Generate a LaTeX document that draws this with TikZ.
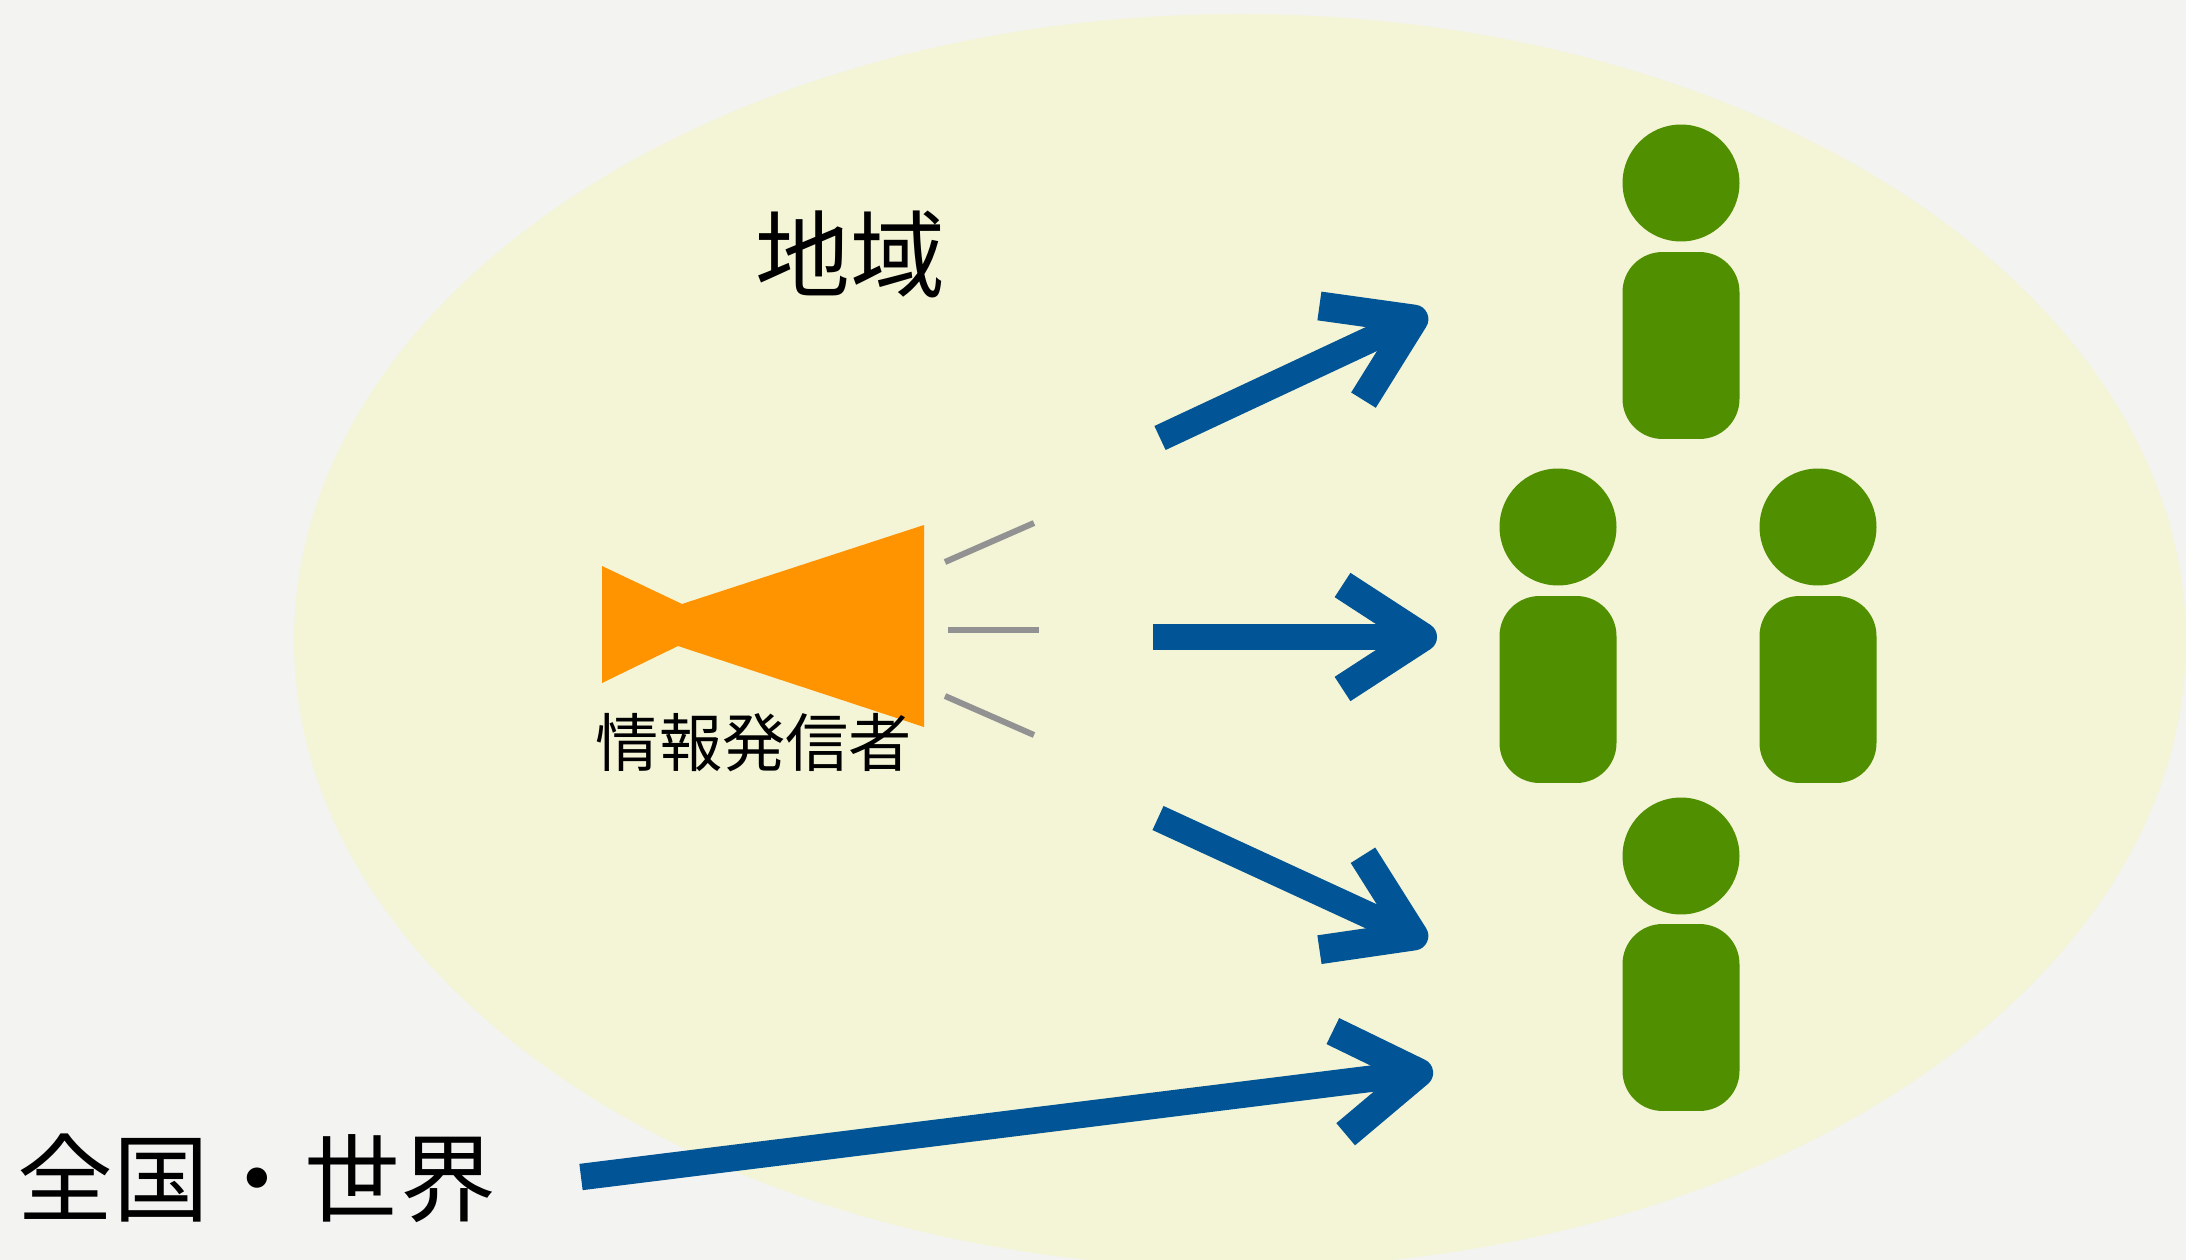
\documentclass[tikz,border=0pt]{standalone}
\usepackage{fontspec}
\usetikzlibrary{arrows.meta}
\newfontfamily\jpfont{Noto Sans CJK JP}
\definecolor{paper}{HTML}{F3F3F2}
\definecolor{region}{HTML}{F4F4D6}
\definecolor{flow}{HTML}{015596}
\definecolor{person}{HTML}{4F8F00}
\definecolor{horn}{HTML}{FF9300}
\definecolor{sound}{HTML}{929292}
\tikzset{
  x=0.02cm,y=-0.02cm,
  flowarrow/.style={draw=flow,line width=26.5*0.569pt,-{Straight Barb[length=80*0.569pt,width=104*0.569pt,line width=29*0.569pt,line join=round,line cap=butt]}},
  soundline/.style={draw=sound,line width=6*0.569pt},
  head/.style={circle,fill=person,minimum size=117*0.569pt,inner sep=0pt,outer sep=0pt},
  torso/.style={rectangle,fill=person,minimum width=117*0.569pt,minimum height=187*0.569pt,rounded corners=40*0.569pt,inner sep=0pt,outer sep=0pt},
  label/.style={inner sep=0pt,text=black,font=\jpfont},
}
\begin{document}
\begin{tikzpicture}
\useasboundingbox (0,0) rectangle (2186,1260);
\fill[paper] (0,0) rectangle (2186,1260);
\begin{scope}
\clip (0,0) rectangle (2186,1260);
\fill[region] (1240,641) ellipse [x radius=946,y radius=627];
\end{scope}
% horn
\fill[horn] (602,566) -- (682,604) -- (924,525) -- (924,727) -- (678,646) -- (602,683) -- cycle;
\coordinate (s1a) at (945,562); \coordinate (s1b) at (1034,523);
\coordinate (s2a) at (948,630); \coordinate (s2b) at (1039,630);
\coordinate (s3a) at (945,696); \coordinate (s3b) at (1034,735);
\draw[soundline] (s1a) -- (s1b);
\draw[soundline] (s2a) -- (s2b);
\draw[soundline] (s3a) -- (s3b);
% people
\node[head] (h1) at (1681,183) {};
\node[torso] (t1) at (1681,345.5) {};
\node[head] (h2) at (1558,527) {};
\node[torso] (t2) at (1558,689.5) {};
\node[head] (h3) at (1818,527) {};
\node[torso] (t3) at (1818,689.5) {};
\node[head] (h4) at (1681,856) {};
\node[torso] (t4) at (1681,1017.5) {};
% labels
\node[label,font=\jpfont\fontsize{54pt}{60pt}\selectfont] (region) at (850,254) {地域};
\node[label,font=\jpfont\fontsize{36pt}{40pt}\selectfont] (sender) at (754,743) {情報発信者};
\node[label,font=\jpfont\fontsize{54.5pt}{60pt}\selectfont] (world) at (257,1178) {全国・世界};
% arrows
\coordinate (a1s) at (1160,438); \coordinate (a1e) at (1427,313);
\coordinate (a2s) at (1153,637); \coordinate (a2e) at (1437,637);
\coordinate (a3s) at (1158,818); \coordinate (a3e) at (1427,942);
\coordinate (a4s) at (581,1177); \coordinate (a4e) at (1433,1071);
\draw[flowarrow] (a1s) -- (a1e);
\draw[flowarrow] (a2s) -- (a2e);
\draw[flowarrow] (a3s) -- (a3e);
\draw[flowarrow] (a4s) -- (a4e);
\end{tikzpicture}
\end{document}
